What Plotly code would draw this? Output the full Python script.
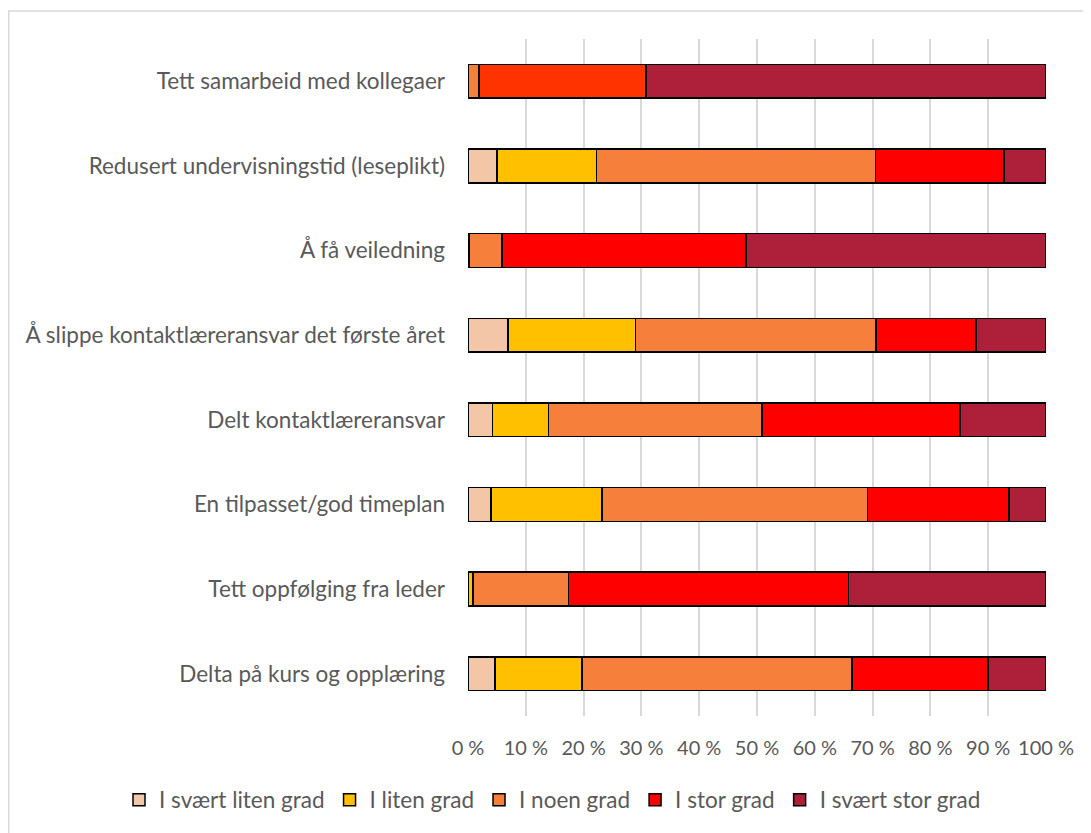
import plotly.graph_objects as go

# -------------------------
# DATA (percent of answers)
# -------------------------
categories = [
    "Tett samarbeid med kollegaer",
    "Redusert undervisningstid (leseplikt)",
    "Å få veiledning",
    "Å slippe kontaktlæreransvar det første året",
    "Delt kontaktlæreransvar",
    "En tilpasset/god timeplan",
    "Tett oppfølging fra leder",
    "Delta på kurs og opplæring",
]
series_names = ["I svært liten grad", "I liten grad", "I noen grad", "I stor grad", "I svært stor grad"]

svaert_liten = [0.0, 5.0, 0.0, 6.9, 4.2, 4.0, 0.0, 4.7]
liten = [0.0, 17.2, 0.3, 22.1, 9.7, 19.2, 0.9, 15.0]
noen = [1.9, 48.3, 5.6, 41.6, 37.0, 45.9, 16.5, 46.7]
stor = [28.9, 22.2, 42.2, 17.3, 34.2, 24.5, 48.4, 23.6]
svaert_stor = [69.2, 7.3, 51.9, 12.1, 14.9, 6.4, 34.2, 10.0]

tick_vals = [0, 10, 20, 30, 40, 50, 60, 70, 80, 90, 100]
tick_text = [f"{v} %" for v in tick_vals]

# -------------------------
# STYLE
# -------------------------
colors = ["#F2C6A6", "#FFC000", "#F67F3B", "#FF0000", "#AE2039"]
# the first row's "I stor grad" segment has its own fill in the original
top_stor_color = "#FF3300"
font_family = "Lato, 'Noto Sans', sans-serif"
grey = "#595959"

# the page body adds 8px around the figure, so size/margins account for it
W, H = 1083, 825
ML, MR, MT, MB = 460, 45, 31, 117
plot_w = W - ML - MR
plot_h = H - MT - MB

values = [svaert_liten, liten, noen, stor, svaert_stor]
outline = dict(color="black", width=1.5)

fig = go.Figure()
for i, (name, vals) in enumerate(zip(series_names, values)):
    if name == "I stor grad":
        # top row drawn separately so the legend keeps the plain red
        fig.add_trace(go.Bar(
            y=categories[:1], x=vals[:1], name=name, orientation="h",
            width=0.4, showlegend=False, legendgroup=name,
            marker=dict(color=top_stor_color, line=outline),
        ))
        fig.add_trace(go.Bar(
            y=categories[1:], x=vals[1:], name=name, orientation="h",
            width=0.4, legendgroup=name,
            marker=dict(color=colors[i], line=outline),
        ))
        continue
    fig.add_trace(go.Bar(
        y=categories,
        x=vals,
        name=name,
        orientation="h",
        width=0.4,
        marker=dict(color=colors[i], line=outline),
    ))

# outer chart frame (only left/top edges are visible in the original)
fig.add_shape(type="rect", xref="paper", yref="paper",
              x0=(0.75 - ML) / plot_w, x1=(W + 20 - ML) / plot_w,
              y0=-(MB + 20) / plot_h,
              y1=1 + (MT - 3) / plot_h,
              line=dict(color="#D9D9D9", width=1.5), layer="below")

fig.update_layout(
    barmode="stack",
    width=W,
    height=H,
    margin=dict(l=ML, r=MR, t=MT, b=MB, autoexpand=False),
    paper_bgcolor="white",
    plot_bgcolor="white",
    font=dict(family=font_family, size=22.5, color=grey),
    legend=dict(
        orientation="h",
        x=(111 - ML) / plot_w, y=-84 / plot_h,
        xanchor="left", yanchor="middle",
        traceorder="normal",
        font=dict(size=22.5, color=grey),
        itemwidth=30,
    ),
    showlegend=True,
)
fig.update_xaxes(
    range=[0, 100],
    tickvals=tick_vals,
    ticktext=tick_text,
    tickangle=0,
    tickfont=dict(size=20),
    showgrid=True,
    gridcolor="#D9D9D9",
    gridwidth=1.5,
    zeroline=False,
    showline=False,
    ticklabelstandoff=18,
    automargin=False,
)
fig.update_yaxes(
    autorange="reversed",
    showgrid=False,
    showline=False,
    ticklabelstandoff=22,
    automargin=False,
)

fig.write_html("out.html")
